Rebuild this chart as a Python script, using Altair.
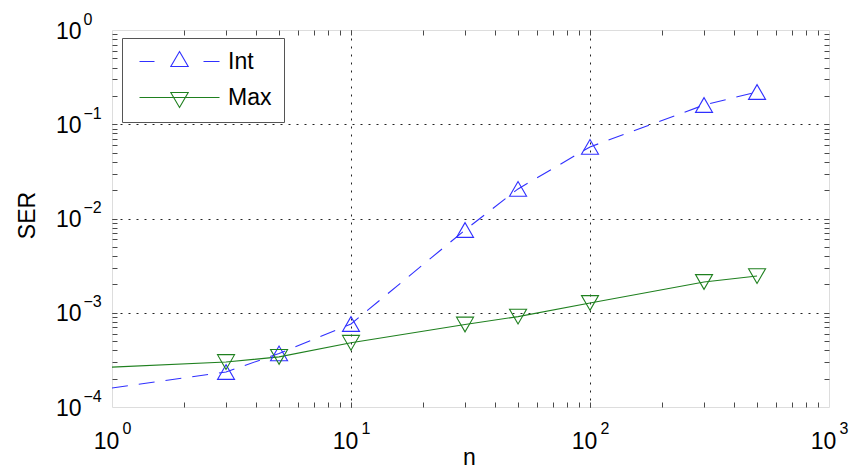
import altair as alt
import pandas as pd

# ---------------- data ----------------
n_vals = [1, 3, 5, 10, 30, 50, 100, 300, 500]
int_ser = [1.59e-4, 2.35e-4, 3.7e-4, 7.6e-4, 7.55e-3, 2.06e-2, 5.75e-2, 1.6e-1, 2.2e-1]
max_ser = [2.65e-4, 3.0e-4, 3.4e-4, 4.8e-4, 7.5e-4, 9.1e-4, 1.27e-3, 2.12e-3, 2.45e-3]
series_names = ["Int", "Max"]
series_colors = ["#3030ff", "#1f801f"]

x_decades = [1, 10, 100, 1000]
y_decades = [1e-4, 1e-3, 1e-2, 1e-1, 1]
x_grid_vals = [10, 100]
y_grid_vals = [1e-3, 1e-2, 1e-1]
x_minor = [m * d for d in [1, 10, 100] for m in range(1, 10)][1:]
y_minor = [m * d for d in [1e-4, 1e-3, 1e-2, 1e-1] for m in range(1, 10)][1:]

# legend symbols: line (dashed / solid) with triangle marker
legend_paths = [
    "M-4,0H-2.5M2.4,0H4M0,-1L0.87,0.5L-0.87,0.5Z",
    "M-4,0H4M0,1L0.87,-0.5L-0.87,-0.5Z",
]

df_int = pd.DataFrame({"n": n_vals, "ser": int_ser, "series": series_names[0]})
df_max = pd.DataFrame({"n": n_vals, "ser": max_ser, "series": series_names[1]})
df_all = pd.concat([df_int, df_max], ignore_index=True)

FONT = "Liberation Sans"
TICK_COLOR = "#4a4a4a"
X_SCALE = alt.Scale(type="log", domain=[1, 1000], nice=False)
Y_SCALE = alt.Scale(type="log", domain=[1e-4, 1], nice=False)


def xenc(axis):
    return alt.X("n:Q", scale=X_SCALE, axis=axis)


def yenc(axis):
    return alt.Y("ser:Q", scale=Y_SCALE, axis=axis)


common_lbl = dict(labelFont=FONT, labelColor="black", labelFlush=False,
                  labelOverlap=False, labelBound=False, ticks=False,
                  domain=False, grid=False)

x_lab = alt.Axis(orient="bottom", values=x_decades, labelExpr="'10'",
                 labelFontSize=23, labelAlign="center", labelBaseline="alphabetic",
                 labelPadding=41, labelOffset=-6,
                 title="n", titleFont=FONT, titleFontSize=23, titleFontWeight="normal",
                 titleColor="black", titleX=357, titleY=57, titleAlign="center",
                 titleBaseline="alphabetic", **common_lbl)
y_lab = alt.Axis(orient="left", values=y_decades, labelExpr="'10'",
                 labelFontSize=23, labelAlign="right", labelBaseline="middle",
                 labelPadding=31, labelOffset=1,
                 title="SER", titleFont=FONT, titleFontSize=23, titleFontWeight="normal",
                 titleColor="black", titleX=-85, titleY=185, titleAngle=270,
                 titleAlign="center", titleBaseline="middle", **common_lbl)

exp_expr = "format(round(log(datum.value)/LN10), 'd')"
x_exp = alt.Axis(orient="bottom", values=x_decades, labelExpr=exp_expr,
                 labelFontSize=16, labelAlign="left", labelBaseline="alphabetic",
                 labelPadding=26, labelOffset=10, title=None, **common_lbl)
y_exp = alt.Axis(orient="left", values=y_decades, labelExpr=exp_expr,
                 labelFontSize=16, labelAlign="left", labelBaseline="middle",
                 labelPadding=29, labelOffset=-11, title=None, **common_lbl)

# inward ticks on all four sides (axis pulled inside by its tick length)
tick_common = dict(labels=False, domain=False, grid=False, ticks=True, tickSize=5,
                   tickColor=TICK_COLOR, tickWidth=1, title=None, offset=-5)
x_tb = alt.Axis(orient="bottom", values=x_minor, **tick_common)
x_tt = alt.Axis(orient="top", values=x_minor, **tick_common)
y_tl = alt.Axis(orient="left", values=y_minor, **tick_common)
y_tr = alt.Axis(orient="right", values=y_minor, **tick_common)

grid_common = dict(grid=True, gridColor="#222222", gridDash=[2, 6], gridWidth=1,
                   labels=False, ticks=False, domain=False, title=None)
x_grid = alt.Axis(orient="bottom", values=x_grid_vals, **grid_common)
y_grid = alt.Axis(orient="left", values=y_grid_vals, **grid_common)

line_int = alt.Chart(df_int).mark_line(
    color=series_colors[0], strokeWidth=1.1, strokeDash=[16, 11]
).encode(x=xenc(x_lab), y=yenc(y_lab))

line_max = alt.Chart(df_max).mark_line(
    color=series_colors[1], strokeWidth=1.1
).encode(x=xenc(x_exp), y=yenc(y_exp))

pts_int = alt.Chart(df_int).transform_filter("datum.n > 1").mark_point(
    shape="triangle-up", size=290, filled=False, color=series_colors[0],
    strokeWidth=1.1, opacity=1
).encode(x=xenc(x_tb), y=yenc(y_tl))

pts_max = alt.Chart(df_max).transform_filter("datum.n > 1").mark_point(
    shape="triangle-down", size=290, filled=False, color=series_colors[1],
    strokeWidth=1.1, opacity=1
).encode(x=xenc(x_tt), y=yenc(y_tr))

leg = alt.Legend(title=None, orient="none", legendX=10, legendY=8,
                 labelFont=FONT, labelFontSize=23, labelColor="black",
                 symbolSize=400, symbolStrokeWidth=1.1, symbolOffset=34,
                 labelOffset=37, padding=12, rowPadding=12,
                 strokeColor="#555555", fillColor="white", symbolOpacity=1)

legend_layer = alt.Chart(df_all).mark_point(filled=False, opacity=0).encode(
    x=xenc(x_grid), y=yenc(y_grid),
    color=alt.Color("series:N", scale=alt.Scale(domain=series_names, range=series_colors), legend=leg),
    shape=alt.Shape("series:N", scale=alt.Scale(domain=series_names, range=legend_paths), legend=leg),
)

chart = alt.layer(line_int, line_max, pts_int, pts_max, legend_layer).resolve_axis(
    x="independent", y="independent"
).properties(
    width=717, height=377,
    padding={"left": 112, "top": 30, "right": 22, "bottom": 62},
    autosize=alt.AutoSizeParams(type="none"),
).configure_view(stroke="#606060", strokeWidth=1).configure(font=FONT)

chart.save("out.html", embed_options={"renderer": "svg", "actions": False})
